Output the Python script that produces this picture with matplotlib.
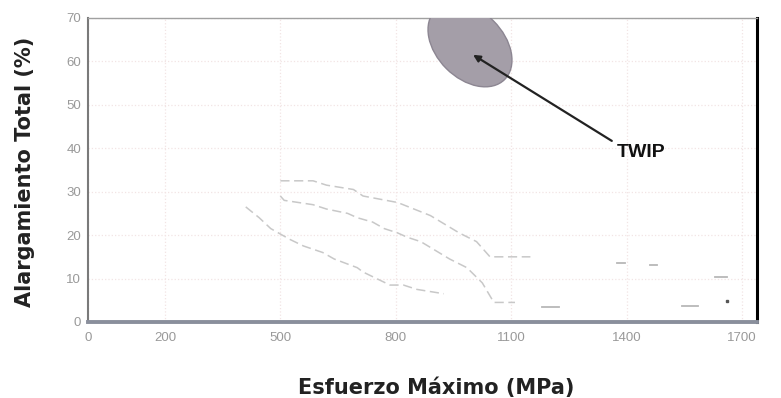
import matplotlib
matplotlib.use('Agg')
import matplotlib.pyplot as plt
from matplotlib.patches import Ellipse
from matplotlib.transforms import ScaledTranslation

# curves (MPa, %)
upper_x = [500, 545, 585, 620, 690, 715, 805, 890, 965, 1010, 1045, 1150]
upper_y = [32.5, 32.5, 32.5, 31.5, 30.5, 29, 27.5, 24.5, 20.5, 18.5, 15, 15]

mid_x = [500, 510, 585, 620, 675, 700, 740, 770, 805, 830, 865, 940, 985,
         1025, 1055, 1080, 1110]
mid_y = [29, 28, 27, 26, 25, 24, 23, 21.5, 20.5, 19.5, 18.5, 14.5, 12.5,
         9, 4.5, 4.5, 4.5]

low_x = [410, 445, 475, 525, 560, 610, 640, 700, 715, 750, 785, 820, 855, 925]
low_y = [26.5, 24, 21.5, 19, 17.5, 16, 14.5, 12.5, 11.5, 10, 8.5, 8.5, 7.5, 6.5]

# short isolated dashes on the right side
dash_x0 = [1375, 1460, 1630, 1545, 1180]
dash_x1 = [1395, 1480, 1660, 1585, 1225]
dash_y = [13.6, 13.1, 10.4, 3.7, 3.5]
dot_x = [1662]
dot_y = [4.8]

x_ticks = [0, 200, 500, 800, 1100, 1400, 1700]
y_ticks = [0, 10, 20, 30, 40, 50, 60, 70]

# TWIP region
twip_x, twip_y = 993, 63.8
arrow_tip = (1001, 61.5)
label_pos = (1375, 39)

fig = plt.figure(figsize=(7.81, 3.98), dpi=100)
ax = fig.add_axes([0.1127, 0.191, 0.857, 0.764])

line_kw = dict(color='#c8c8c8', lw=1.1, linestyle=(0, (6, 3)))
ax.plot(upper_x, upper_y, **line_kw)
ax.plot(mid_x, mid_y, **line_kw)
ax.plot(low_x, low_y, **line_kw)
for x0, x1, y in zip(dash_x0, dash_x1, dash_y):
    ax.plot([x0, x1], [y, y], color='#b8b8b8', lw=1.3)
ax.plot(dot_x, dot_y, 's', color='#555555', ms=2)

ax.set_xlim(0, 1740)
ax.set_ylim(0, 70)
ax.set_xticks(x_ticks)
ax.set_yticks(y_ticks)
ax.tick_params(length=0, labelsize=9.5, colors='#999999')
ax.tick_params(axis='x', pad=7)
ax.tick_params(axis='y', pad=5)
for lab in ax.get_xticklabels() + ax.get_yticklabels():
    lab.set_family('Liberation Sans')
ax.grid(True, color='#f2e4e4', linestyle=':', lw=0.9)

ax.spines['left'].set_color('#7a7a7a')
ax.spines['left'].set_linewidth(1.5)
ax.spines['bottom'].set_color('#8a8f9c')
ax.spines['bottom'].set_linewidth(2.8)
ax.spines['top'].set_color('#a0a0a0')
ax.spines['top'].set_linewidth(1)
ax.spines['right'].set_color('black')
ax.spines['right'].set_linewidth(2.2)

# ellipse sized in inches, centred in data coords (clipped by the top edge)
trans = fig.dpi_scale_trans + ScaledTranslation(twip_x, twip_y, ax.transData)
ell = Ellipse((0, 0), width=0.98, height=0.67, angle=-45,
              facecolor='#a49ea8', edgecolor='#8c8692', lw=1,
              transform=trans, zorder=3)
ax.add_patch(ell)

ax.annotate('TWIP', xy=arrow_tip, xytext=label_pos, fontsize=14,
            fontweight='bold', family='Liberation Sans', color='#111111',
            ha='left', va='center',
            arrowprops=dict(arrowstyle='-|>', color='#222222', lw=1.6,
                            mutation_scale=10, relpos=(0, 1),
                            shrinkA=2, shrinkB=0),
            zorder=4)

ax.set_xlabel('Esfuerzo Máximo (MPa)', fontsize=15, fontweight='bold',
              family='DejaVu Sans', color='#222222')
ax.set_ylabel('Alargamiento Total (%)', fontsize=15, fontweight='bold',
              family='DejaVu Sans', color='#222222')
ax.xaxis.set_label_coords(0.52, -0.184)
ax.yaxis.set_label_coords(-0.079, 0.493)

plt.savefig('out.png', dpi=100)
